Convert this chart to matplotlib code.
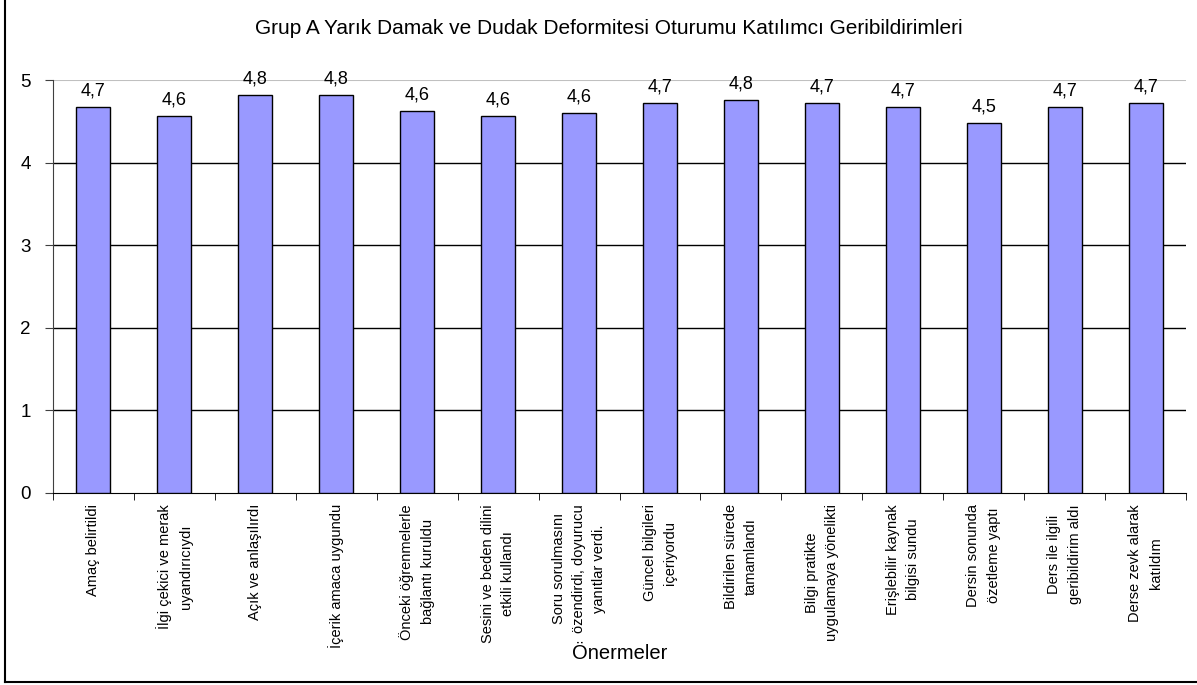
import numpy as np
import matplotlib.pyplot as plt
from matplotlib.lines import Line2D

plt.rcParams['font.family'] = ['Liberation Sans', 'DejaVu Sans']

title = "Grup A Yarık Damak ve Dudak Deformitesi Oturumu Katılımcı Geribildirimleri"
labels = [
    "Amaç belirtildi",
    "İlgi çekici ve merak\nuyandırıcıydı",
    "Açık ve anlaşılırdı",
    "İçerik amaca uygundu",
    "Önceki öğrenmelerle\nbağlantı kuruldu",
    "Sesini ve beden dilini\netkili kullandı",
    "Soru sorulmasını\nözendirdi, doyurucu\nyanıtlar verdi.",
    "Güncel bilgileri\niçeriyordu",
    "Bildirilen sürede\ntamamlandı",
    "Bilgi pratikte\nuygulamaya yönelikti",
    "Erişlebilir kaynak\nbilgisi sundu",
    "Dersin sonunda\nözetleme yaptı",
    "Ders ile ilgili\ngeribildirim aldı",
    "Derse zevk alarak\nkatıldım",
]
scores = [4.67, 4.57, 4.82, 4.82, 4.63, 4.57, 4.60, 4.72, 4.76, 4.72, 4.67, 4.48, 4.67, 4.72]

fig = plt.figure(figsize=(11.97, 6.85), dpi=100)
ax = fig.add_axes([0.0443, 0.2803, 0.9465, 0.6029])

x = np.arange(len(scores))
ax.bar(x, scores, width=0.42, color="#9999FF", edgecolor="black", linewidth=1, zorder=3)

for xi, v in zip(x, scores):
    ax.text(xi, v + 0.09, f"{v:.1f}".replace(".", ","), ha="center", va="bottom", fontsize=13)

ax.set_ylim(0, 5)
ax.set_xlim(-0.5, len(scores) - 0.5)
ax.set_yticks([0, 1, 2, 3, 4, 5])
ax.tick_params(axis="y", labelsize=13.5, length=6, pad=10, color="#404040")

for yv in [1, 2, 3, 4]:
    ax.axhline(yv, color="black", linewidth=1, zorder=1)
ax.axhline(5, color="#C0C0C0", linewidth=1.5, zorder=1)

ax.set_xticks(x)
ax.set_xticklabels(labels, rotation=90, ha="center", va="top", multialignment="center",
                   fontsize=10.5, linespacing=1.58)
ax.tick_params(axis="x", length=0, pad=8)
ax.set_xticks(np.arange(len(scores) + 1) - 0.5, minor=True)
ax.tick_params(axis="x", which="minor", length=5, color="black")

for s in ["top", "right"]:
    ax.spines[s].set_visible(False)
ax.spines["left"].set_color("#404040")
ax.spines["bottom"].set_color("black")

ax.set_xlabel("Önermeler", fontsize=14.5, va="center")
ax.xaxis.set_label_coords(0.5, -161 / 413)
fig.text(0.509, 1 - 28 / 685, title, ha="center", va="center", fontsize=15)

# outer chart border (left and bottom visible)
fig.add_artist(Line2D([5 / 1197, 5 / 1197], [3 / 685, 1], color="black", linewidth=1.5))
fig.add_artist(Line2D([5 / 1197, 1], [3 / 685, 3 / 685], color="black", linewidth=1.5))

fig.savefig("out.png", dpi=100)
